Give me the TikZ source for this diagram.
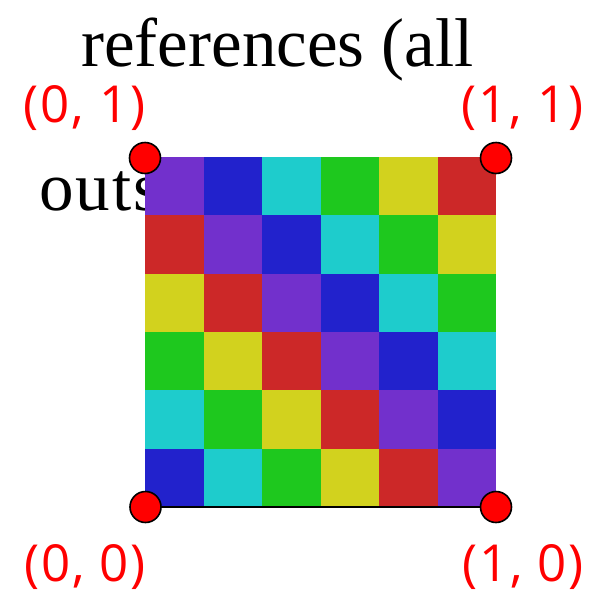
\documentclass[tikz,border=0pt]{standalone}
\usepackage{fontspec}
\setmainfont{Liberation Serif}
\newfontfamily\labelfont[LetterSpace=3.5]{Open Sans}
\usepackage{tikz}
\usetikzlibrary{positioning}
\usepackage{xcolor}
\definecolor{cPurple}{HTML}{7230CC}
\definecolor{cBlue}{HTML}{2222CC}
\definecolor{cCyan}{HTML}{1ECCCC}
\definecolor{cGreen}{HTML}{1EC81E}
\definecolor{cYellow}{HTML}{D2D21E}
\definecolor{cRed}{HTML}{CC2828}

\begin{document}
\begin{tikzpicture}[
  x=1pt, y=-1pt,
  bigtext/.style={inner sep=0pt, font=\fontsize{69}{83}\selectfont},
  corner/.style={circle, fill=red, draw=black, line width=1.6pt,
                 minimum size=31pt, inner sep=0pt},
  lbl/.style={inner sep=0pt, text=red, font=\labelfont\fontsize{51}{60}\selectfont},
]
\useasboundingbox (0,0) rectangle (605,592);
\node[bigtext, anchor=base west] (head) at (81,66) {references (all};
\node[bigtext, anchor=base west] (outs) at (39,210)
  {\addfontfeature{LetterSpace=3}outs};
% 6x6 grid, colour shifts by one per row
\foreach \r in {0,...,5}{
  \foreach \c in {0,...,5}{
    \pgfmathtruncatemacro{\k}{mod(\c-\r+6,6)}
    \ifcase\k \def\cc{cPurple}\or \def\cc{cBlue}\or \def\cc{cCyan}%
    \or \def\cc{cGreen}\or \def\cc{cYellow}\or \def\cc{cRed}\fi
    \fill[\cc] (145+58.5*\c,157+58.35*\r) rectangle ++(58.5,58.35);
  }
}
\coordinate (p00) at (145.5,507);
\coordinate (p10) at (496,507);
\coordinate (p01) at (145,158);
\coordinate (p11) at (496,158);
\draw[line width=2pt] (p00) -- (p10);
\node[corner] (c00) at (p00) {};
\node[corner] (c10) at (p10) {};
\node[corner] (c01) at (p01) {};
\node[corner] (c11) at (p11) {};
\node[lbl] (l01) at (84.5,108) {(0, 1)};
\node[lbl] (l11) at (522.5,108) {(1, 1)};
\node[lbl] (l00) at (85,567) {(0, 0)};
\node[lbl] (l10) at (523,567) {(1, 0)};
\end{tikzpicture}
\end{document}
